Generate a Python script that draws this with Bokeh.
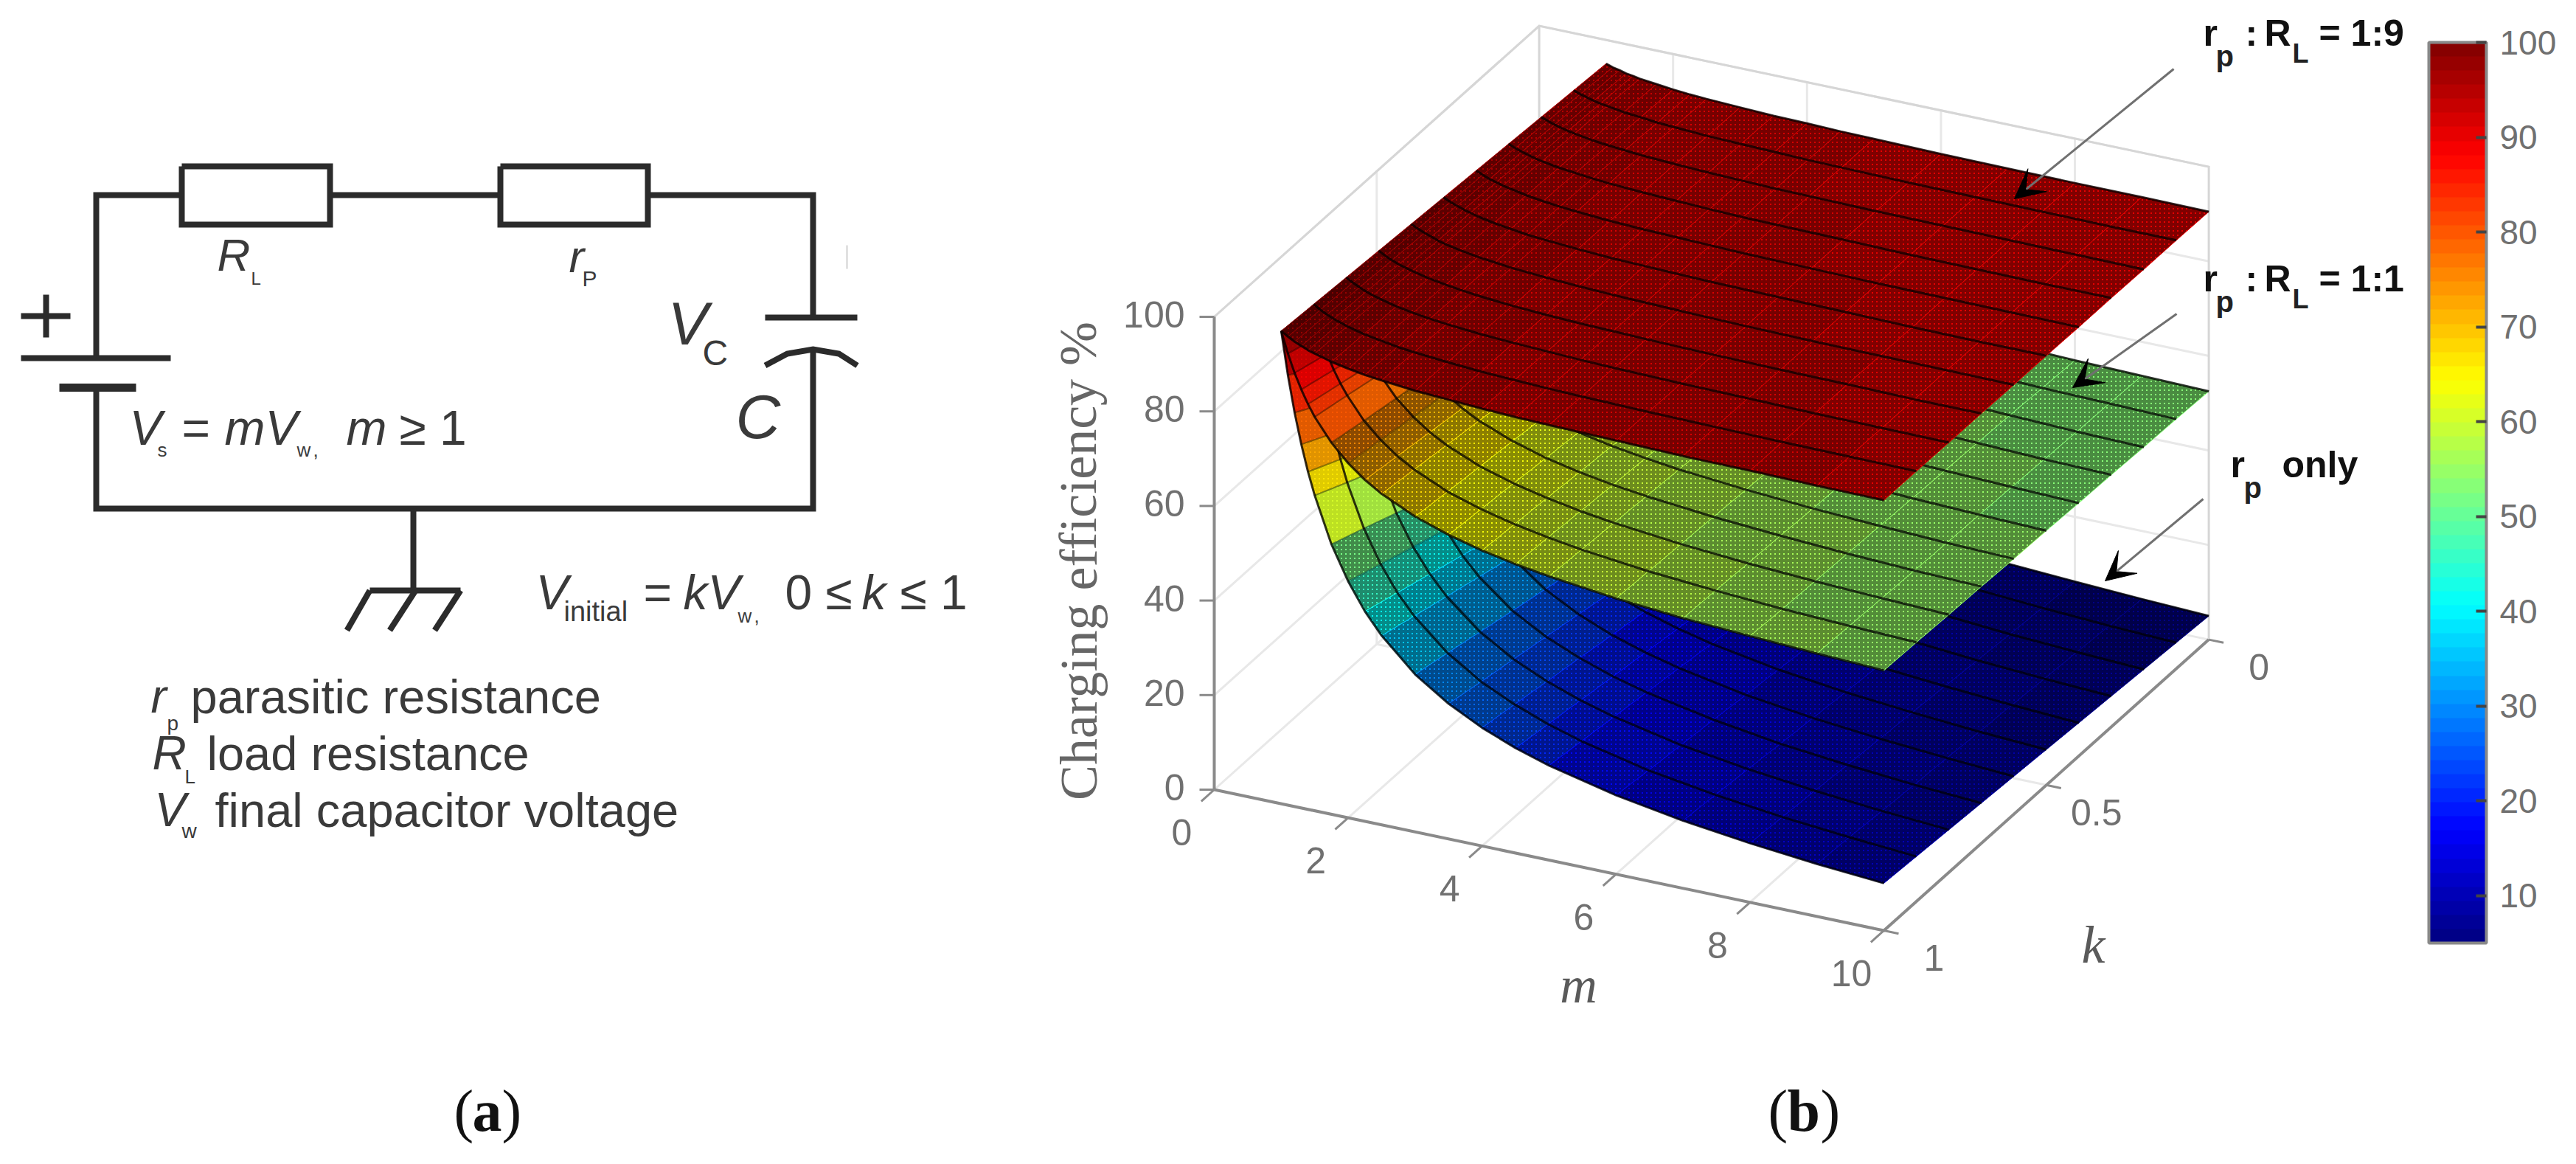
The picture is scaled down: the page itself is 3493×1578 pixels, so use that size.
from bokeh.core.properties import value
from bokeh.plotting import figure
from bokeh.models import Arrow, ColorBar, ColumnDataSource, FixedTicker, LinearColorMapper, Range1d, VeeHead
from bokeh.transform import transform
from bokeh.embed import file_html
from bokeh.resources import INLINE

# values
m_values = [1, 1.1, 1.2, 1.3, 1.4, 1.5, 1.75, 2, 2.25, 2.5, 3, 3.5, 4, 4.5, 5, 6, 7, 8, 9, 10]
k_values = [0, 0.1, 0.2, 0.3, 0.4, 0.5, 0.6, 0.7, 0.8, 0.9, 1]

eta_rp_only = [
    [50, 45.5, 41.7, 38.5, 35.7, 33.3, 28.6, 25, 22.2, 20, 16.7, 14.3, 12.5, 11.1, 10, 8.3, 7.1, 6.3, 5.6, 5],
    [55, 50, 45.8, 42.3, 39.3, 36.7, 31.4, 27.5, 24.4, 22, 18.3, 15.7, 13.8, 12.2, 11, 9.2, 7.9, 6.9, 6.1, 5.5],
    [60, 54.5, 50, 46.2, 42.9, 40, 34.3, 30, 26.7, 24, 20, 17.1, 15, 13.3, 12, 10, 8.6, 7.5, 6.7, 6],
    [65, 59.1, 54.2, 50, 46.4, 43.3, 37.1, 32.5, 28.9, 26, 21.7, 18.6, 16.3, 14.4, 13, 10.8, 9.3, 8.1, 7.2, 6.5],
    [70, 63.6, 58.3, 53.8, 50, 46.7, 40, 35, 31.1, 28, 23.3, 20, 17.5, 15.6, 14, 11.7, 10, 8.8, 7.8, 7],
    [75, 68.2, 62.5, 57.7, 53.6, 50, 42.9, 37.5, 33.3, 30, 25, 21.4, 18.8, 16.7, 15, 12.5, 10.7, 9.4, 8.3, 7.5],
    [80, 72.7, 66.7, 61.5, 57.1, 53.3, 45.7, 40, 35.6, 32, 26.7, 22.9, 20, 17.8, 16, 13.3, 11.4, 10, 8.9, 8],
    [85, 77.3, 70.8, 65.4, 60.7, 56.7, 48.6, 42.5, 37.8, 34, 28.3, 24.3, 21.3, 18.9, 17, 14.2, 12.1, 10.6, 9.4, 8.5],
    [90, 81.8, 75, 69.2, 64.3, 60, 51.4, 45, 40, 36, 30, 25.7, 22.5, 20, 18, 15, 12.9, 11.3, 10, 9],
    [95, 86.4, 79.2, 73.1, 67.9, 63.3, 54.3, 47.5, 42.2, 38, 31.7, 27.1, 23.8, 21.1, 19, 15.8, 13.6, 11.9, 10.6, 9.5],
    [100, 90.9, 83.3, 76.9, 71.4, 66.7, 57.1, 50, 44.4, 40, 33.3, 28.6, 25, 22.2, 20, 16.7, 14.3, 12.5, 11.1, 10],
]
eta_1_1 = [
    [75, 72.7, 70.8, 69.2, 67.9, 66.7, 64.3, 62.5, 61.1, 60, 58.3, 57.1, 56.3, 55.6, 55, 54.2, 53.6, 53.1, 52.8, 52.5],
    [77.5, 75, 72.9, 71.2, 69.6, 68.3, 65.7, 63.8, 62.2, 61, 59.2, 57.9, 56.9, 56.1, 55.5, 54.6, 53.9, 53.4, 53.1, 52.8],
    [80, 77.3, 75, 73.1, 71.4, 70, 67.1, 65, 63.3, 62, 60, 58.6, 57.5, 56.7, 56, 55, 54.3, 53.8, 53.3, 53],
    [82.5, 79.5, 77.1, 75, 73.2, 71.7, 68.6, 66.3, 64.4, 63, 60.8, 59.3, 58.1, 57.2, 56.5, 55.4, 54.6, 54.1, 53.6, 53.3],
    [85, 81.8, 79.2, 76.9, 75, 73.3, 70, 67.5, 65.6, 64, 61.7, 60, 58.8, 57.8, 57, 55.8, 55, 54.4, 53.9, 53.5],
    [87.5, 84.1, 81.3, 78.8, 76.8, 75, 71.4, 68.8, 66.7, 65, 62.5, 60.7, 59.4, 58.3, 57.5, 56.3, 55.4, 54.7, 54.2, 53.8],
    [90, 86.4, 83.3, 80.8, 78.6, 76.7, 72.9, 70, 67.8, 66, 63.3, 61.4, 60, 58.9, 58, 56.7, 55.7, 55, 54.4, 54],
    [92.5, 88.6, 85.4, 82.7, 80.4, 78.3, 74.3, 71.3, 68.9, 67, 64.2, 62.1, 60.6, 59.4, 58.5, 57.1, 56.1, 55.3, 54.7, 54.3],
    [95, 90.9, 87.5, 84.6, 82.1, 80, 75.7, 72.5, 70, 68, 65, 62.9, 61.3, 60, 59, 57.5, 56.4, 55.6, 55, 54.5],
    [97.5, 93.2, 89.6, 86.5, 83.9, 81.7, 77.1, 73.8, 71.1, 69, 65.8, 63.6, 61.9, 60.6, 59.5, 57.9, 56.8, 55.9, 55.3, 54.8],
    [100, 95.5, 91.7, 88.5, 85.7, 83.3, 78.6, 75, 72.2, 70, 66.7, 64.3, 62.5, 61.1, 60, 58.3, 57.1, 56.3, 55.6, 55],
]
eta_1_9 = [
    [95, 94.5, 94.2, 93.8, 93.6, 93.3, 92.9, 92.5, 92.2, 92, 91.7, 91.4, 91.3, 91.1, 91, 90.8, 90.7, 90.6, 90.6, 90.5],
    [95.5, 95, 94.6, 94.2, 93.9, 93.7, 93.1, 92.8, 92.4, 92.2, 91.8, 91.6, 91.4, 91.2, 91.1, 90.9, 90.8, 90.7, 90.6, 90.6],
    [96, 95.5, 95, 94.6, 94.3, 94, 93.4, 93, 92.7, 92.4, 92, 91.7, 91.5, 91.3, 91.2, 91, 90.9, 90.8, 90.7, 90.6],
    [96.5, 95.9, 95.4, 95, 94.6, 94.3, 93.7, 93.3, 92.9, 92.6, 92.2, 91.9, 91.6, 91.4, 91.3, 91.1, 90.9, 90.8, 90.7, 90.7],
    [97, 96.4, 95.8, 95.4, 95, 94.7, 94, 93.5, 93.1, 92.8, 92.3, 92, 91.8, 91.6, 91.4, 91.2, 91, 90.9, 90.8, 90.7],
    [97.5, 96.8, 96.3, 95.8, 95.4, 95, 94.3, 93.8, 93.3, 93, 92.5, 92.1, 91.9, 91.7, 91.5, 91.3, 91.1, 90.9, 90.8, 90.8],
    [98, 97.3, 96.7, 96.2, 95.7, 95.3, 94.6, 94, 93.6, 93.2, 92.7, 92.3, 92, 91.8, 91.6, 91.3, 91.1, 91, 90.9, 90.8],
    [98.5, 97.7, 97.1, 96.5, 96.1, 95.7, 94.9, 94.3, 93.8, 93.4, 92.8, 92.4, 92.1, 91.9, 91.7, 91.4, 91.2, 91.1, 90.9, 90.9],
    [99, 98.2, 97.5, 96.9, 96.4, 96, 95.1, 94.5, 94, 93.6, 93, 92.6, 92.3, 92, 91.8, 91.5, 91.3, 91.1, 91, 90.9],
    [99.5, 98.6, 97.9, 97.3, 96.8, 96.3, 95.4, 94.8, 94.2, 93.8, 93.2, 92.7, 92.4, 92.1, 91.9, 91.6, 91.4, 91.2, 91.1, 91],
    [100, 99.1, 98.3, 97.7, 97.1, 96.7, 95.7, 95, 94.4, 94, 93.3, 92.9, 92.5, 92.2, 92, 91.7, 91.4, 91.3, 91.1, 91],
]

m_ticks = [0, 2, 4, 6, 8, 10]
k_ticks = [0, 0.5, 1]
k_tick_labels = ["0", "0.5", "1"]
eta_ticks = [0, 20, 40, 60, 80, 100]
cbar_ticks = [10, 20, 30, 40, 50, 60, 70, 80, 90, 100]

# view of the 3d box, in page pixels
ORIGIN = (1654, 1078)
M_STEP = (90.8, 19.1)
K_STEP = (440.6, -394.4)
Z_STEP = 6.41


def proj(m, k, z):
    x = ORIGIN[0] + m * M_STEP[0] + (1 - k) * K_STEP[0]
    y = ORIGIN[1] + m * M_STEP[1] + (1 - k) * K_STEP[1] - z * Z_STEP
    return x, y


def jet(n):
    cols = []
    for i in range(n):
        t = (i + 0.5) / n * 4
        r = min(t - 1.5, 4.5 - t)
        g = min(t - 0.5, 3.5 - t)
        b = min(t + 0.5, 2.5 - t)
        vals = [int(255 * max(0, min(1, c))) for c in (r, g, b)]
        cols.append("#%02x%02x%02x" % tuple(vals))
    return cols


mapper = LinearColorMapper(palette=jet(64), low=5, high=100)

p = figure(width=3477, height=1562, output_backend="svg", toolbar_location=None,
           x_range=Range1d(8, 3485), y_range=Range1d(1570, 8),
           min_border=0, outline_line_color=None)
p.axis.visible = False
p.grid.visible = False


def seg(pts, color="#2b2b2b", width=8):
    p.line([a[0] for a in pts], [a[1] for a in pts], line_color=color, line_width=width, line_join="miter")


def label(x, y, s, size, color="#3a3a3a", font="Liberation Sans", style="normal", align="left", base="alphabetic", angle=0):
    # alphabetic text lands about 0.3 em low in the svg output
    if base == "alphabetic":
        y = y - 0.3 * size
    p.text([x], [y], text=[s], text_font=value(font), text_font_size="%dpx" % size, text_color=color,
           text_font_style=style, text_align=align, text_baseline=base, angle=angle)


# panel (a), the circuit
seg([(254, 272), (138, 272), (138, 493)])
seg([(455, 272), (686, 272)])
seg([(886, 272), (1110, 272), (1110, 438)])
seg([(1110, 481), (1110, 697), (138, 697), (138, 533)])
seg([(254, 233), (455, 233), (455, 312), (254, 312), (254, 233)])
seg([(686, 233), (886, 233), (886, 312), (686, 312), (686, 233)])
seg([(36, 493), (239, 493)])
seg([(88, 533), (192, 533)], width=11)
seg([(36, 436), (103, 436)])
seg([(70, 407), (70, 465)])
seg([(1045, 438), (1170, 438)])
seg([(1045, 503), (1075, 487), (1110, 481), (1145, 487), (1170, 503)])
seg([(568, 697), (568, 808)])
seg([(509, 808), (632, 808)])
seg([(509, 808), (478, 862)])
seg([(571, 808), (536, 862)])
seg([(632, 808), (597, 862)])
seg([(1156, 340), (1156, 372)], color="#d0d0d0", width=2)

label(302, 372, "R", 62, style="italic")
label(348, 392, "L", 24)
label(779, 374, "r", 62, style="italic")
label(797, 394, "P", 30)
label(913, 471, "V", 82, style="italic")
label(960, 500, "C", 48)
label(1005, 598, "C", 84, style="italic")

label(183, 607, "V", 66, style="italic")
label(221, 625, "s", 26)
label(254, 607, "=", 66)
label(312, 607, "mV", 66, style="italic")
label(410, 625, "w", 26)
label(432, 625, ",", 26)
label(477, 607, "m", 66, style="italic")
label(549, 607, "\u2265 1", 66)

label(734, 830, "V", 66, style="italic")
label(772, 848, "initial", 38)
label(880, 830, "=", 66)
label(934, 830, "kV", 66, style="italic")
label(1008, 850, "w", 26)
label(1030, 850, ",", 26)
label(1072, 830, "0 \u2264", 66)
label(1176, 830, "k", 66, style="italic")
label(1228, 830, "\u2264 1", 66)

label(212, 971, "r", 64, style="italic")
label(234, 996, "p", 28)
label(266, 971, "parasitic resistance", 65)
label(214, 1048, "R", 64, style="italic")
label(258, 1068, "L", 26)
label(288, 1048, "load resistance", 65)
label(217, 1125, "V", 64, style="italic")
label(254, 1142, "w", 28)
label(299, 1125, "final capacitor voltage", 65)

label(623, 1537, "(", 80, color="#111111", font="Liberation Serif")
label(648, 1537, "a", 80, color="#111111", font="Liberation Serif", style="bold")
label(688, 1537, ")", 80, color="#111111", font="Liberation Serif")

# panel (b), box and grid
GRID = "#e8e8e8"
BOX = "#d6d6d6"
AXIS = "#8a8a8a"
grid_lines = []
for z in eta_ticks[1:]:
    grid_lines.append([proj(0, 1, z), proj(0, 0, z), proj(10, 0, z)])
for m in m_ticks[1:-1]:
    grid_lines.append([proj(m, 1, 0), proj(m, 0, 0), proj(m, 0, 100)])
grid_lines.append([proj(0, 0.5, 100), proj(0, 0.5, 0), proj(10, 0.5, 0)])
for g in grid_lines:
    seg(g, color=GRID, width=3)
seg([proj(0, 1, 100), proj(0, 0, 100), proj(10, 0, 100), proj(10, 0, 0)], color=BOX, width=3)
seg([proj(0, 0, 0), proj(0, 0, 100)], color=BOX, width=3)
seg([proj(0, 1, 0), proj(0, 0, 0), proj(10, 0, 0)], color=GRID, width=3)


def draw_surface(eta, mesh=True):
    xs, ys, vals, dark = [], [], [], []
    for i in range(len(k_values) - 1):
        for j in range(len(m_values) - 1):
            corners = [(i, j), (i, j + 1), (i + 1, j + 1), (i + 1, j)]
            pts = [proj(m_values[b], k_values[a], eta[a][b]) for a, b in corners]
            xs.append([q[0] for q in pts])
            ys.append([q[1] for q in pts])
            vals.append(sum(eta[a][b] for a, b in corners) / 4)
            # cells by the steep edge stay bright, the flat part reads darker
            dark.append(0.12 if mesh and m_values[j] < 1.75 else 0.45)
    src = ColumnDataSource(dict(xs=xs, ys=ys, v=vals, dark=dark))
    p.patches("xs", "ys", source=src, fill_color=transform("v", mapper), line_color=transform("v", mapper),
              line_width=1, hatch_pattern="cross", hatch_color="#000000", hatch_alpha="dark",
              hatch_scale=6, hatch_weight=4)
    lx, ly = [], []
    for i in range(len(k_values)):
        pts = [proj(m_values[j], k_values[i], eta[i][j]) for j in range(len(m_values))]
        lx.append([q[0] for q in pts])
        ly.append([q[1] for q in pts])
    p.multi_line(lx, ly, line_color="#000000", line_alpha=0.8, line_width=3)
    if mesh:
        cx, cy = [], []
        for j in range(len(m_values)):
            if m_values[j] <= 2:
                pts = [proj(m_values[j], k_values[i], eta[i][j]) for i in range(len(k_values))]
                cx.append([q[0] for q in pts])
                cy.append([q[1] for q in pts])
        p.multi_line(cx, cy, line_color="#000000", line_alpha=0.45, line_width=2)


draw_surface(eta_rp_only)
draw_surface(eta_1_1)
draw_surface(eta_1_9, mesh=False)

# axes
seg([proj(0, 1, 0), proj(0, 1, 100)], color=AXIS, width=4)
seg([proj(0, 1, 0), proj(10, 1, 0), proj(10, 0, 0)], color=AXIS, width=4)
for z in eta_ticks:
    a = proj(0, 1, z)
    seg([(a[0] - 20, a[1]), a], color=AXIS, width=3)
    label(a[0] - 40, a[1] - 3, str(z), 50, color="#707070", align="right", base="middle")
for m in m_ticks:
    seg([proj(m, 1, 0), proj(m, 1.04, 0)], color=AXIS, width=3)
    a = proj(m, 1, 0)
    label(a[0] - 44, a[1] + 58, str(m), 50, color="#707070", align="center", base="middle")
for k, s in zip(k_ticks, k_tick_labels):
    seg([proj(10, k, 0), proj(10.22, k, 0)], color=AXIS, width=3)
    a = proj(10, k, 0)
    label(a[0] + 68, a[1] + 37, s, 50, color="#707070", align="center", base="middle")

label(1470, 768, "Charging efficiency %", 72, color="#666666", font="Liberation Serif", align="center", base="middle", angle=1.5708)
label(2148, 1343, "m", 70, color="#5a5a5a", font="Liberation Serif", style="italic", align="center", base="middle")
label(2846, 1288, "k", 72, color="#5a5a5a", font="Liberation Serif", style="italic", align="center", base="middle")
label(2405, 1537, "(", 80, color="#111111", font="Liberation Serif")
label(2431, 1537, "b", 80, color="#111111", font="Liberation Serif", style="bold")
label(2476, 1537, ")", 80, color="#111111", font="Liberation Serif")

# annotations
ann_top = 67
label(2995, ann_top, "r", 50, color="#111111", style="bold")
label(3012, ann_top + 28, "p", 40, color="#222222", style="bold")
label(3052, ann_top, ":", 50, color="#111111", style="bold")
label(3078, ann_top, "R", 50, color="#111111", style="bold")
label(3116, ann_top + 24, "L", 36, color="#222222", style="bold")
label(3152, ann_top, "= 1:9", 50, color="#111111", style="bold")
ann_mid = 400
label(2995, ann_mid, "r", 50, color="#111111", style="bold")
label(3012, ann_mid + 28, "p", 40, color="#222222", style="bold")
label(3052, ann_mid, ":", 50, color="#111111", style="bold")
label(3078, ann_mid, "R", 50, color="#111111", style="bold")
label(3116, ann_mid + 24, "L", 36, color="#222222", style="bold")
label(3152, ann_mid, "= 1:1", 50, color="#111111", style="bold")
label(3032, 652, "r", 50, color="#111111", style="bold")
label(3050, 680, "p", 40, color="#222222", style="bold")
label(3102, 652, "only", 50, color="#111111", style="bold")

for x0, y0, x1, y1 in [(2955, 101, 2739, 277), (2959, 433, 2818, 533), (2995, 684, 2862, 795)]:
    p.add_layout(Arrow(end=VeeHead(size=40, fill_color="#000000", line_color="#000000"),
                       x_start=x0, y_start=y0, x_end=x1, y_end=y1,
                       line_color="#707070", line_width=3))

cbar = ColorBar(color_mapper=mapper, width=78, height=1221, location=(3293, 284),
                ticker=FixedTicker(ticks=cbar_ticks), padding=0, background_fill_alpha=0,
                bar_line_color="#888888", bar_line_width=4,
                major_tick_in=14, major_tick_out=0, major_tick_line_color="#444444", major_tick_line_width=4,
                minor_tick_line_color=None, major_label_text_font="Liberation Sans",
                major_label_text_font_size="46px", major_label_text_color="#707070", label_standoff=18)
p.add_layout(cbar)

open("out.html", "w").write(file_html(p, INLINE))
